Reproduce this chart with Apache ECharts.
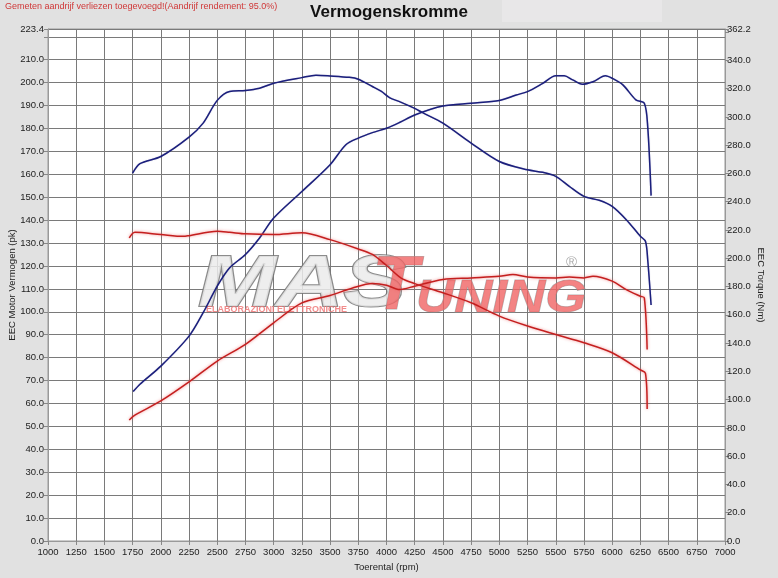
<!DOCTYPE html>
<html>
<head>
<meta charset="utf-8">
<script src="https://cdn.jsdelivr.net/npm/echarts@6/dist/echarts.min.js"></script>
<style>
html,body{margin:0;padding:0;background:#e1e1e1;}
#chart{width:778px;height:578px;}
</style>
</head>
<body>
<div id="chart"></div>
<script>
// ---- Data ----
const titleText = 'Vermogenskromme';
const noteText = 'Gemeten aandrijf verliezen toegevoegd!(Aandrijf rendement: 95.0%)';

// Blue run – power (pk, left axis)
const bluePowerRpm = [1755,1815,2000,2250,2375,2500,2610,2750,2875,3000,3250,3500,3640,3750,3875,4000,4115,4250,4500,4750,5000,5150,5250,5385,5500,5575,5650,5735,5830,5940,6000,6095,6210,6285,6315,6345];
const bluePowerPk  = [65.2,68.4,76.3,89.4,99.6,111.2,119.2,125.0,132.2,140.9,152.5,164.2,172.9,175.8,178.2,180.1,182.6,185.9,189.8,191.0,192.2,194.6,196.1,199.7,203.0,203.0,201.2,199.3,200.4,203.0,201.9,199.0,192.5,191.0,180.8,150.7];

// Blue run – torque (Nm, right axis)
const blueTorqueRpm = [1750,1815,2000,2250,2375,2500,2610,2750,2875,3000,3250,3375,3500,3670,3750,3875,3955,4030,4110,4250,4320,4500,4750,5000,5250,5385,5500,5620,5750,5885,6000,6125,6250,6295,6315,6345];
const blueTorqueNm  = [260.2,266.9,272.0,285.7,295.6,311.7,318.0,318.7,320.3,323.8,327.8,329.5,329.0,328.0,326.7,321.5,318.0,313.5,311.0,306.0,303.0,295.6,281.5,268.5,262.6,260.8,258.0,250.9,243.8,241.0,236.7,227.3,215.6,212.0,199.0,167.0];

// Red run – power (pk, left axis)
const redPowerRpm = [1720,1770,2000,2250,2500,2750,3000,3250,3500,3700,3875,4000,4115,4250,4500,4750,5000,5120,5250,5500,5620,5750,5830,6000,6125,6250,6285,6310];
const redPowerPk  = [52.8,54.9,61.1,69.4,78.5,85.8,95.2,103.9,107.1,110.4,112.3,111.6,109.7,111.2,114.1,114.8,115.5,116.3,115.2,114.8,115.2,114.8,115.5,113.4,109.7,106.8,106.1,83.6];

// Red run – torque (Nm, right axis)
const redTorqueRpm = [1720,1770,2000,2200,2250,2500,2610,2750,3000,3250,3500,3750,3875,4000,4130,4250,4500,4750,5000,5250,5500,5750,6000,6250,6295,6310];
const redTorqueNm  = [214.4,218.4,216.8,215.5,216.0,219.1,218.4,217.3,216.8,218.0,213.2,206.6,202.7,194.9,186.0,182.1,175.6,168.5,159.1,152.1,146.1,140.3,133.2,121.0,118.6,93.3];

// Axis settings
const rpmMin = 1000, rpmMax = 7000, rpmStep = 250;
const pkMin = 0, pkMax = 223.4, pkStep = 10;
const nmMin = 0, nmMax = 362.2, nmStep = 20;

function zip(a, b) { return a.map((v, i) => [v, b[i]]); }

const FONT = 'Liberation Sans, Arial, sans-serif';
const BLUE = '#1b1f7c';
const RED = '#c41f1f';

const chart = echarts.init(document.getElementById('chart'), null, {renderer: 'canvas'});

function lineSeries(name, data, yIdx, color, glow) {
  return {
    name: name, type: 'line', data: data, yAxisIndex: yIdx,
    showSymbol: false, smooth: 0.3, z: 5,
    lineStyle: {color: color, width: 1.5,
      shadowBlur: glow ? 3 : 1, shadowColor: glow ? 'rgba(235,90,90,0.7)' : 'rgba(30,30,120,0.3)'},
    emphasis: {disabled: true}, animation: false
  };
}

const option = {
  backgroundColor: '#e1e1e1',
  animation: false,
  title: {
    text: titleText, left: 'center', top: -1,
    textStyle: {fontFamily: FONT, fontSize: 17, fontWeight: 'bold', color: '#111'}
  },
  graphic: [
    {type: 'rect', left: 502, top: 0, shape: {width: 160, height: 22}, style: {fill: '#e8e7e8'}, z: -1, silent: true},
    {type: 'text', left: 5, top: 2, style: {text: noteText, font: '9px ' + FONT, fill: '#d03838'}, silent: true},
    // watermark logo
    {type: 'text', x: 198, y: 250, scaleX: 1.3, z: 1, silent: true,
      style: {text: 'MAS', font: 'italic bold 72px ' + FONT, fill: 'rgba(235,235,235,0.85)', stroke: 'rgba(120,120,120,0.85)', lineWidth: 2,
        shadowBlur: 2, shadowColor: 'rgba(0,0,0,0.3)', shadowOffsetX: 2, shadowOffsetY: 2}},
    {type: 'text', x: 372, y: 250, z: 1, silent: true,
      style: {text: 'T', font: 'italic bold 76px ' + FONT, fill: 'rgba(240,100,100,0.8)', stroke: 'rgba(150,150,150,0.7)', lineWidth: 1,
        shadowBlur: 2, shadowColor: 'rgba(0,0,0,0.3)', shadowOffsetX: 3, shadowOffsetY: 3}},
    {type: 'text', x: 416, y: 276, scaleX: 1.15, z: 1, silent: true,
      style: {text: 'UNING', font: 'italic bold 46px ' + FONT, fill: 'rgba(240,100,100,0.8)', stroke: 'rgba(150,150,150,0.7)', lineWidth: 1,
        shadowBlur: 2, shadowColor: 'rgba(0,0,0,0.3)', shadowOffsetX: 3, shadowOffsetY: 3}},
    {type: 'text', x: 206, y: 305, z: 1, silent: true,
      style: {text: 'ELABORAZIONI ELETTRONICHE', font: 'bold 9px ' + FONT, fill: 'rgba(240,120,120,0.85)'}},
    {type: 'text', x: 566, y: 255, z: 1, silent: true,
      style: {text: '®', font: '15px ' + FONT, fill: 'rgba(150,150,150,0.8)'}}
  ],
  grid: {
    left: 48, top: 29, width: 677, height: 512, outerBoundsMode: 'none', containLabel: false,
    show: true, backgroundColor: '#ffffff', borderColor: '#999', borderWidth: 1
  },
  xAxis: {
    type: 'value', min: rpmMin, max: rpmMax, interval: rpmStep,
    name: 'Toerental (rpm)', nameLocation: 'middle', nameGap: 21,
    nameTextStyle: {fontFamily: FONT, fontSize: 9.5, color: '#222'},
    axisLine: {show: true, lineStyle: {color: '#999'}},
    axisTick: {show: true, length: 4, lineStyle: {color: '#888'}},
    axisLabel: {fontFamily: FONT, fontSize: 9.5, color: '#222', margin: 6, formatter: v => String(v)},
    splitLine: {show: true, lineStyle: {color: '#7a7a7a', width: 1}}
  },
  yAxis: [
    {
      type: 'value', position: 'left', min: pkMin, max: pkMax, interval: pkStep,
      name: 'EEC Motor Vermogen (pk)', nameLocation: 'middle', nameRotate: 90, nameGap: 31, nameMoveOverlap: false,
      nameTextStyle: {fontFamily: FONT, fontSize: 9.5, color: '#222'},
      axisLine: {show: true, lineStyle: {color: '#999'}},
      axisTick: {show: true, length: 4, lineStyle: {color: '#888'}},
      axisLabel: {fontFamily: FONT, fontSize: 9.5, color: '#222', margin: 4, showMaxLabel: true, showMinLabel: true,
        formatter: v => (Math.abs(v - 220) < 1e-6 ? '' : v.toFixed(1))},
      splitLine: {show: true, lineStyle: {color: '#7a7a7a', width: 1}}
    },
    {
      type: 'value', position: 'right', min: nmMin, max: nmMax, interval: nmStep,
      name: 'EEC Torque (Nm)', nameLocation: 'middle', nameRotate: -90, nameGap: 31, nameMoveOverlap: false,
      nameTextStyle: {fontFamily: FONT, fontSize: 9.5, color: '#222'},
      axisLine: {show: true, lineStyle: {color: '#999'}},
      axisTick: {show: true, length: 4, lineStyle: {color: '#888'}},
      axisLabel: {fontFamily: FONT, fontSize: 9.5, color: '#222', margin: 2, showMaxLabel: true, showMinLabel: true,
        formatter: v => (Math.abs(v - 360) < 1e-6 ? '' : v.toFixed(1))},
      splitLine: {show: false}
    }
  ],
  series: [
    lineSeries('Blue power', zip(bluePowerRpm, bluePowerPk), 0, BLUE, false),
    lineSeries('Blue torque', zip(blueTorqueRpm, blueTorqueNm), 1, BLUE, false),
    lineSeries('Red power', zip(redPowerRpm, redPowerPk), 0, RED, true),
    lineSeries('Red torque', zip(redTorqueRpm, redTorqueNm), 1, RED, true)
  ]
};
chart.setOption(option);
</script>
</body>
</html>
